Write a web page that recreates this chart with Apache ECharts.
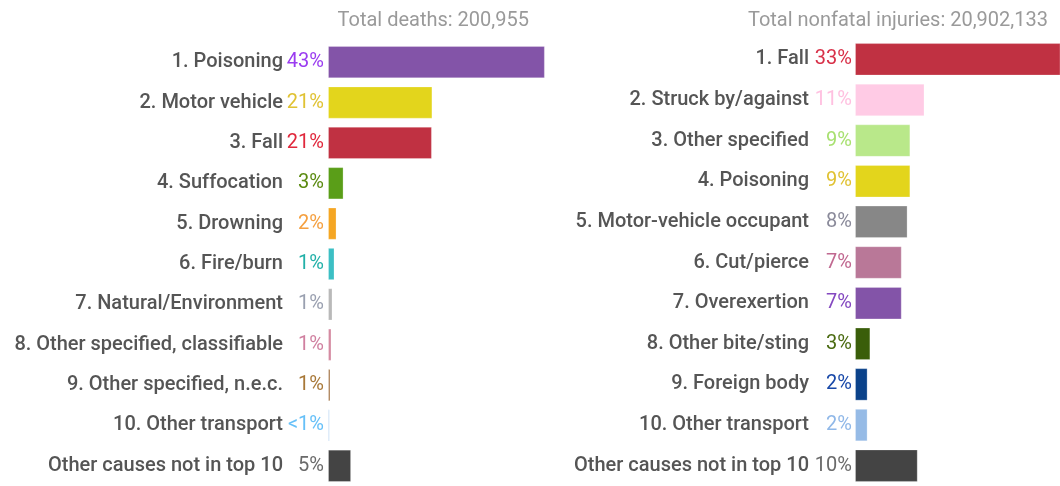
<!DOCTYPE html>
<html>
<head>
<meta charset="utf-8">
<script src="https://cdn.jsdelivr.net/npm/echarts@6/dist/echarts.min.js"></script>
<style>
html,body{margin:0;padding:0;background:#fff;}
#injChart{width:1060px;height:486px;}
</style>
</head>
<body>
<div id="injChart"></div>
<script>
// deaths (left)
var deathCauses = ['1. Poisoning','2. Motor vehicle','3. Fall','4. Suffocation','5. Drowning','6. Fire/burn',
    '7. Natural/Environment','8. Other specified, classifiable','9. Other specified, n.e.c.','10. Other transport','Other causes not in top 10'];
var deathValues = [43.2, 20.8, 20.7, 3.1, 1.7, 1.3, 0.9, 0.7, 0.5, 0.35, 4.6];
var deathPct = ['43%','21%','21%','3%','2%','1%','1%','1%','1%','<1%','5%'];
var deathColors = ['#8354a8','#e3d51c','#c03142','#5a9e18','#f5a623','#3cbfc4','#b9b9b9','#d58ba2','#a87c50','#a9cbf0','#444444'];
var deathPctColors = ['#9a3cf0','#e0c233','#e0283c','#5a8a10','#f5a040','#22b0a8','#9aa0b0','#d080a0','#a87838','#66c0f8','#6a6a6a'];

// nonfatal injuries (right)
var injCauses = ['1. Fall','2. Struck by/against','3. Other specified','4. Poisoning','5. Motor-vehicle occupant','6. Cut/pierce',
    '7. Overexertion','8. Other bite/sting','9. Foreign body','10. Other transport','Other causes not in top 10'];
var injValues = [33.6, 11.3, 9.0, 9.0, 8.55, 7.6, 7.6, 2.5, 2.05, 2.05, 10.2];
var injPct = ['33%','11%','9%','9%','8%','7%','7%','3%','2%','2%','10%'];
var injColors = ['#c03142','#ffcbe5','#b9e88a','#e3d51c','#878787','#b97898','#8354a8','#3a5e0a','#0b428a','#96bbe6','#444444'];
var injPctColors = ['#d83048','#ffc0e0','#a8e070','#e0c233','#8a8a9a','#c06890','#8448c0','#4a6a10','#1848a8','#90b8e8','#6a6a6a'];

var font = 'Roboto, "Noto Sans", sans-serif';

var makeRich = function(colors, pctWidth){
    var rich = {n:{fontSize:20, fontWeight:500, color:'#555555', fontFamily:font}};
    colors.forEach(function(c, i){
        rich['p'+i] = {fontSize:20, fontWeight:'normal', color:c, fontFamily:font, width:pctWidth, align:'right'};
    });
    return rich;
};

var makeYAxis = function(idx, cats, pct, colors, pctWidth, margin){
    return {
        type:'category',
        gridIndex:idx,
        data:cats,
        inverse:true,
        axisLine:{show:false},
        axisTick:{show:false},
        splitLine:{show:false},
        axisLabel:{
            margin:margin,
            formatter:function(value, i){
                return '{n|' + value + '}{p' + i + '|' + pct[i] + '}';
            },
            rich:makeRich(colors, pctWidth)
        }
    };
};

var makeData = function(values, colors){
    return values.map(function(v, i){
        return {value:v, itemStyle:{color:colors[i], borderColor:'rgba(255,255,255,0.25)', borderWidth:1}};
    });
};

var titleStyle = {fontSize:20, fontWeight:'normal', color:'#9a9a9a', fontFamily:font};

var chart = echarts.init(document.getElementById('injChart'));
chart.setOption({
    animation:false,
    title:[
        {text:'Total deaths: 200,955', right:531, top:11, padding:0, textStyle:titleStyle},
        {text:'Total nonfatal injuries: 20,902,133', right:12, top:11, padding:0, textStyle:titleStyle}
    ],
    grid:[
        {left:328, top:42, width:251, height:445},
        {left:855, top:39, width:205, height:447}
    ],
    xAxis:[
        {type:'value', gridIndex:0, min:0, max:50, show:false},
        // right panel runs off the edge: 205px shown at 6.15px per percent
        {type:'value', gridIndex:1, min:0, max:33.33, show:false}
    ],
    yAxis:[
        makeYAxis(0, deathCauses, deathPct, deathPctColors, 41, 4),
        makeYAxis(1, injCauses, injPct, injPctColors, 43, 3)
    ],
    series:[
        {type:'bar', xAxisIndex:0, yAxisIndex:0, barCategoryGap:'20%', data:makeData(deathValues, deathColors)},
        {type:'bar', xAxisIndex:1, yAxisIndex:1, barCategoryGap:'20%', data:makeData(injValues, injColors)}
    ]
});
</script>
</body>
</html>
